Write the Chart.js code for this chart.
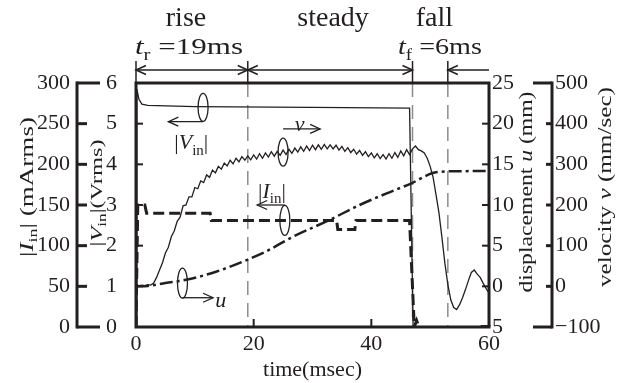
<!DOCTYPE html>
<html>
<head>
<meta charset="utf-8">
<title>Rise / steady / fall response</title>
<script src="https://cdn.jsdelivr.net/npm/chart.js@4.4.1/dist/chart.umd.min.js"></script>
<style>
  html, body { margin: 0; padding: 0; background: #fff; overflow: hidden; }
  canvas { display: block; }
</style>
</head>
<body>
<canvas id="chart" width="625" height="383"></canvas>
<script>
// tick labels of the five axes
const timeTicks = [0, 20, 40, 60];
const currentTicks = [0, 50, 100, 150, 200, 250, 300];
const voltageTicks = [0, 1, 2, 3, 4, 5, 6];
const dispTicks = [-5, 0, 5, 10, 15, 20, 25];
const velTicks = [-100, 0, 100, 200, 300, 400, 500];

// phase borders (ms): end of rise, start of fall, end of fall
const phaseMarks = [19, 47, 53];

// |Vin| (Vrms)
const vinTime = [0, 0.15, 0.5, 1, 2, 10, 30, 46.5, 47.1];
const vinValues = [0, 5.85, 5.6, 5.48, 5.45, 5.42, 5.40, 5.38, 0];

// |Iin| (mArms)
const iinTime = [0, 0.3, 1.5, 1.8, 12.6, 12.8, 34.1, 34.3, 37.2, 37.4, 46.5, 46.9, 47.3, 47.7, 48.1];
const iinValues = [0, 150, 150, 140, 140, 131, 131, 120, 120, 131, 131, 65, 0, 8, 0];

// displacement u (mm)
const uTime = [0, 2, 5, 8.5, 13.6, 18.7, 21.6, 26.7, 33, 38, 42.5, 46.9, 50.3, 52, 55, 60];
const uValues = [0, 0.05, 0.4, 0.8, 1.8, 3.2, 4.1, 6.1, 8.2, 10.0, 11.4, 12.7, 13.9, 14.1, 14.15, 14.2];

// velocity v (mm/sec)
const vTime = [0, 0.5, 1, 1.5, 2, 2.5, 3, 3.5, 4, 4.5, 5, 5.5, 6, 6.5, 7, 7.5, 8, 8.5, 9, 9.5,
  10, 10.5, 11, 11.5, 12, 12.5, 13, 13.5, 14, 14.5, 15, 15.5, 16, 16.5, 17, 17.5, 18, 18.5, 19, 19.5,
  20, 20.5, 21, 21.5, 22, 22.5, 23, 23.5, 24, 24.5, 25, 25.5, 26, 26.5, 27, 27.5, 28, 28.5, 29, 29.5,
  30, 30.5, 31, 31.5, 32, 32.5, 33, 33.5, 34, 34.5, 35, 35.5, 36, 36.5, 37, 37.5, 38, 38.5, 39, 39.5,
  40, 40.5, 41, 41.5, 42, 42.5, 43, 43.5, 44, 44.5, 45, 45.5, 46, 46.5, 47, 47.5, 48, 48.5, 49, 49.5,
  50, 50.5, 51, 51.5, 52, 52.5, 53, 53.5, 54, 54.5, 55, 55.5, 56, 56.5, 57, 57.5, 58, 58.5, 59, 59.5, 60];
const vValues = [0, 2, 3, 2, 4, 3, 8, 22, 40, 58, 82, 96, 122, 136, 160, 170, 198, 200, 220, 220,
  243, 240, 259, 255, 274, 268, 286, 279, 295, 288, 303, 296, 310, 301, 315, 306, 319, 310, 321, 311,
  323, 313, 326, 315, 328, 318, 331, 320, 332, 322, 335, 324, 337, 327, 340, 330, 343, 332, 345, 334,
  347, 336, 348, 337, 349, 338, 348, 338, 347, 335, 344, 332, 341, 329, 337, 325, 334, 322, 331, 319,
  328, 316, 326, 314, 324, 313, 326, 315, 329, 317, 333, 321, 336, 324, 338, 345, 336, 333, 328, 315,
  295, 268, 225, 180, 120, 57, 5, -33, -52, -57, -45, -28, -8, 14, 34, 40, 30, 22, 8, -5, -17];

const ink = '#231f20';
const serif = '"Liberation Serif", "DejaVu Serif", serif';

function pts(xs, ys) {
    return xs.map((t, i) => ({ x: t, y: ys[i] }));
}

function font(size, italic) {
    return `${italic ? 'italic ' : ''}${size}px ${serif}`;
}

// draws text made of runs (italic / subscript pieces), centred on cx, cy.
// len, if given, stretches the text along its baseline to that length
function drawRuns(ctx, runs, cx, cy, size, angle, len) {
    ctx.save();
    ctx.translate(cx, cy);
    if (angle) ctx.rotate(angle);
    const subSize = Math.round(size * 0.68);
    let total = 0;
    runs.forEach(r => {
        ctx.font = font(r.sub ? subSize : size, r.it);
        total += ctx.measureText(r.t).width;
    });
    if (len) ctx.scale(len / total, 1);
    let x = -total / 2;
    ctx.fillStyle = ink;
    ctx.textAlign = 'left';
    ctx.textBaseline = 'alphabetic';
    runs.forEach(r => {
        ctx.font = font(r.sub ? subSize : size, r.it);
        ctx.fillText(r.t, x, size * 0.34 + (r.sub ? size * 0.24 : 0));
        x += ctx.measureText(r.t).width;
    });
    ctx.restore();
}

function line(ctx, x1, y1, x2, y2) {
    ctx.beginPath();
    ctx.moveTo(x1, y1);
    ctx.lineTo(x2, y2);
    ctx.stroke();
}

// open arrow head, tip at (x, y), dir -1 points left, 1 points right
function head(ctx, x, y, dir) {
    ctx.beginPath();
    ctx.moveTo(x - dir * 10, y - 4.5);
    ctx.lineTo(x, y);
    ctx.lineTo(x - dir * 10, y + 4.5);
    ctx.stroke();
}

// little loop round a trace with an arrow telling which axis it belongs to
function curl(ctx, cx, cy, ry, arrowY, toX) {
    ctx.beginPath();
    ctx.ellipse(cx, cy, 5, ry, 0, 0, Math.PI * 2);
    ctx.stroke();
    line(ctx, cx, arrowY, toX, arrowY);
    head(ctx, toX, arrowY, toX < cx ? -1 : 1);
}

const decor = {
    id: 'decor',
    beforeDatasetsDraw(chart) {
        const { ctx, chartArea: a, scales: { x } } = chart;
        ctx.save();
        ctx.strokeStyle = '#8c8c8c';
        ctx.lineWidth = 1.5;
        ctx.setLineDash([14, 8]);
        phaseMarks.forEach(t => {
            const px = x.getPixelForValue(t);
            line(ctx, px, a.top, px, a.bottom);
        });
        ctx.restore();
    },
    afterDraw(chart) {
        const { ctx, chartArea: a, scales: s } = chart;
        const X = t => s.x.getPixelForValue(t);
        ctx.save();
        ctx.strokeStyle = ink;
        ctx.fillStyle = ink;
        ctx.lineCap = 'butt';

        // frame
        ctx.lineWidth = 3;
        ctx.strokeRect(a.left, a.top, a.right - a.left, a.bottom - a.top);

        // inner ticks
        ctx.lineWidth = 2;
        voltageTicks.forEach(v => { const y = s.yV.getPixelForValue(v); line(ctx, a.left, y, a.left + 7, y); });
        dispTicks.forEach(v => { const y = s.yU.getPixelForValue(v); line(ctx, a.right, y, a.right - 7, y); });
        timeTicks.forEach(t => { const px = X(t); line(ctx, px, a.bottom, px, a.bottom - 8); });

        // outer |Iin| axis
        const ix = 77;
        ctx.lineWidth = 3;
        line(ctx, ix, s.yI.getPixelForValue(0) + 1.5, ix, s.yI.getPixelForValue(300) - 1.5);
        currentTicks.forEach((v, i) => {
            const y = s.yI.getPixelForValue(v);
            const end = (i === 0 || i === currentTicks.length - 1) ? 100 : 87;
            line(ctx, ix, y, end, y);
        });

        // outer velocity axis
        const vx = 552;
        line(ctx, vx, s.yVel.getPixelForValue(-100) + 1.5, vx, s.yVel.getPixelForValue(500) - 1.5);
        velTicks.forEach((v, i) => {
            const y = s.yVel.getPixelForValue(v);
            const end = (i === 0 || i === velTicks.length - 1) ? 533 : 546;
            line(ctx, vx, y, end, y);
        });

        // tick labels
        ctx.font = font(22);
        ctx.textBaseline = 'middle';
        ctx.textAlign = 'right';
        currentTicks.forEach(v => ctx.fillText(String(v), 70, s.yI.getPixelForValue(v)));
        voltageTicks.forEach(v => ctx.fillText(String(v), 117, s.yV.getPixelForValue(v)));
        ctx.textAlign = 'left';
        dispTicks.forEach(v => {
            const txt = String(v).replace('-', '\u2212');
            const shift = v < 0 ? ctx.measureText('\u2212').width : 0;
            ctx.fillText(txt, 492 - shift, s.yU.getPixelForValue(v));
        });
        velTicks.forEach(v => ctx.fillText(String(v).replace('-', '\u2212'), 555, s.yVel.getPixelForValue(v)));
        ctx.textAlign = 'center';
        timeTicks.forEach(t => ctx.fillText(String(t), X(t), 344));

        // axis titles
        const up = -Math.PI / 2;
        drawRuns(ctx, [{ t: 'time(msec)' }], (a.left + a.right) / 2, 369, 22);
        drawRuns(ctx, [{ t: '|' }, { t: 'I', it: true }, { t: 'in', sub: true }, { t: '| (mArms)' }], 27, 187, 18, up, 140);
        drawRuns(ctx, [{ t: '|' }, { t: 'V', it: true }, { t: 'in', sub: true }, { t: '|(Vrms)' }], 96, 193, 17, up, 107);
        drawRuns(ctx, [{ t: 'displacement ' }, { t: 'u', it: true }, { t: ' (mm)' }], 526, 192, 18, up, 201);
        drawRuns(ctx, [{ t: 'velocity ' }, { t: 'v', it: true }, { t: ' (mm/sec)' }], 605, 187, 18, up, 200);

        // phase brackets above the plot
        const by = 70;
        ctx.lineWidth = 1.5;
        [0, ...phaseMarks].forEach(t => line(ctx, X(t), 61, X(t), a.top));
        line(ctx, X(0), by, X(19), by);
        head(ctx, X(0), by, -1);
        head(ctx, X(19), by, 1);
        line(ctx, X(19), by, X(47), by);
        head(ctx, X(19), by, -1);
        head(ctx, X(47), by, 1);
        line(ctx, X(53), by, X(60), by);
        head(ctx, X(53), by, -1);

        drawRuns(ctx, [{ t: 'rise' }], X(8.5), 16, 28);
        drawRuns(ctx, [{ t: 'steady' }], X(33.5), 16, 28);
        drawRuns(ctx, [{ t: 'fall' }], X(50.7), 16, 28);
        drawRuns(ctx, [{ t: 't', it: true }, { t: 'r', sub: true }, { t: ' =19ms' }], 189, 46, 24, 0, 108);
        drawRuns(ctx, [{ t: 't', it: true }, { t: 'f', sub: true }, { t: ' =6ms' }], 440, 46, 24, 0, 84);

        // trace labels with their axis arrows
        ctx.lineWidth = 1.3;
        const yV = v => s.yV.getPixelForValue(v);
        const yI = v => s.yI.getPixelForValue(v);
        const yVel = v => s.yVel.getPixelForValue(v);
        const yU = v => s.yU.getPixelForValue(v);

        curl(ctx, X(11.4), yV(5.4), 14, yV(5.05), X(5.5));
        drawRuns(ctx, [{ t: '|' }, { t: 'V', it: true }, { t: 'in', sub: true }, { t: '|' }], X(9.4), yV(4.55), 22);

        curl(ctx, X(25), yVel(330), 14, yVel(387), X(31.3));
        drawRuns(ctx, [{ t: 'v', it: true }], X(27.8), yVel(400), 22);

        curl(ctx, X(25.3), yI(131), 15, yI(150), X(20.6));
        drawRuns(ctx, [{ t: '|' }, { t: 'I', it: true }, { t: 'in', sub: true }, { t: '|' }], X(23.1), yI(168), 22);

        curl(ctx, X(7.9), yU(0.4), 15, yU(-1.4), X(13.1));
        drawRuns(ctx, [{ t: 'u', it: true }], X(14.4), yU(-1.6), 22);

        ctx.restore();
    }
};

new Chart(document.getElementById('chart'), {
    type: 'line',
    data: {
        datasets: [
            { label: '|Vin|', data: pts(vinTime, vinValues), yAxisID: 'yV', borderColor: ink, borderWidth: 1.3, pointRadius: 0 },
            { label: 'v', data: pts(vTime, vValues), yAxisID: 'yVel', borderColor: ink, borderWidth: 1.3, pointRadius: 0 },
            { label: '|Iin|', data: pts(iinTime, iinValues), yAxisID: 'yI', borderColor: ink, borderWidth: 3, borderDash: [11, 5], pointRadius: 0 },
            { label: 'u', data: pts(uTime, uValues), yAxisID: 'yU', borderColor: ink, borderWidth: 2.5, borderDash: [13, 4, 3, 4], pointRadius: 0, cubicInterpolationMode: 'monotone' }
        ]
    },
    options: {
        responsive: false,
        animation: false,
        devicePixelRatio: 1,
        layout: { padding: { left: 136, right: 136, top: 83, bottom: 56 } },
        plugins: { legend: { display: false }, tooltip: { enabled: false } },
        scales: {
            x: { type: 'linear', min: 0, max: 60, display: false },
            yI: { type: 'linear', min: 0, max: 300, display: false },
            yV: { type: 'linear', min: 0, max: 6, display: false },
            yU: { type: 'linear', min: -5, max: 25, display: false },
            yVel: { type: 'linear', min: -100, max: 500, display: false }
        }
    },
    plugins: [decor]
});
</script>
</body>
</html>
